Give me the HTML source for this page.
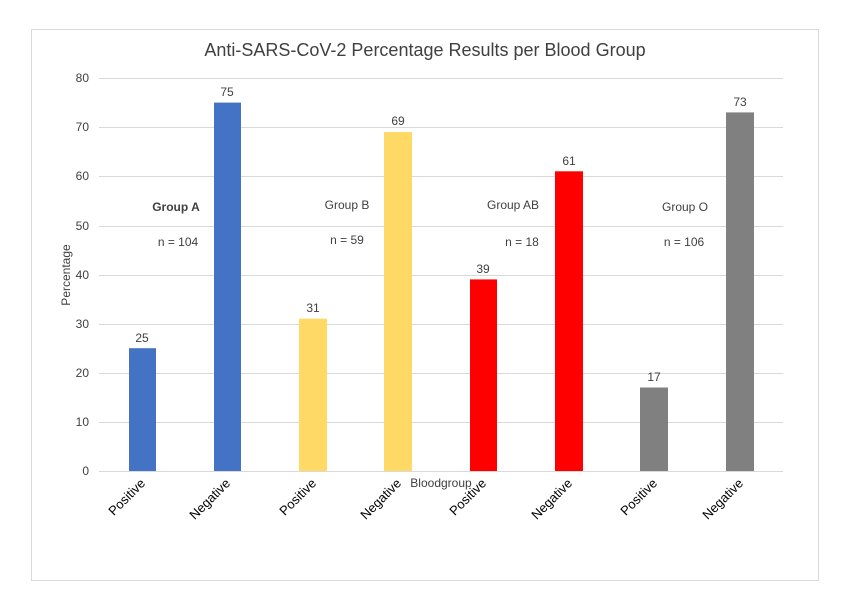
<!DOCTYPE html>
<html><head><meta charset="utf-8"><style>
html,body{margin:0;padding:0;background:#fff;}
svg{display:block;font-family:"Liberation Sans",sans-serif;}
</style></head><body>
<svg width="850" height="612" xmlns="http://www.w3.org/2000/svg">
<rect x="0" y="0" width="850" height="612" fill="#fff"/>
<rect x="31.5" y="29.5" width="787" height="551" fill="#fff" stroke="#d9d9d9"/>
<text x="425" y="56" text-anchor="middle" font-size="18" fill="#404040">Anti-SARS-CoV-2 Percentage Results per Blood Group</text>
<g stroke="#d9d9d9" stroke-width="1">
<line x1="99" x2="783" y1="78.5" y2="78.5"/>
<line x1="99" x2="783" y1="127.5" y2="127.5"/>
<line x1="99" x2="783" y1="176.5" y2="176.5"/>
<line x1="99" x2="783" y1="226.5" y2="226.5"/>
<line x1="99" x2="783" y1="275.5" y2="275.5"/>
<line x1="99" x2="783" y1="324.5" y2="324.5"/>
<line x1="99" x2="783" y1="373.5" y2="373.5"/>
<line x1="99" x2="783" y1="422.5" y2="422.5"/>
</g>
<g font-size="12" fill="#404040" text-anchor="end">
<text x="89" y="82">80</text><text x="89" y="131">70</text><text x="89" y="180">60</text>
<text x="89" y="230">50</text><text x="89" y="279">40</text><text x="89" y="328">30</text>
<text x="89" y="377">20</text><text x="89" y="426">10</text><text x="89" y="475">0</text>
</g>
<text transform="translate(70,275) rotate(-90)" text-anchor="middle" font-size="12" fill="#404040">Percentage</text>
<rect x="129" y="348.2" width="27" height="122.8" fill="#4472c4"/>
<rect x="214" y="102.6" width="27" height="368.4" fill="#4472c4"/>
<rect x="299" y="318.7" width="28" height="152.3" fill="#ffd966"/>
<rect x="384" y="132" width="28" height="339" fill="#ffd966"/>
<rect x="470" y="279.4" width="27" height="191.6" fill="#ff0000"/>
<rect x="555" y="171.3" width="28" height="299.7" fill="#ff0000"/>
<rect x="640" y="387.5" width="28" height="83.5" fill="#808080"/>
<rect x="726" y="112.4" width="28" height="358.6" fill="#808080"/>
<line x1="99" x2="783" y1="471.5" y2="471.5" stroke="#d9d9d9"/>
<g font-size="12" fill="#404040" text-anchor="middle">
<text x="142" y="342">25</text><text x="227" y="96">75</text>
<text x="313" y="312">31</text><text x="398" y="125">69</text>
<text x="483" y="273">39</text><text x="569" y="165">61</text>
<text x="654" y="381">17</text><text x="740" y="106">73</text>
<text x="176" y="211" font-weight="bold">Group A</text><text x="178" y="246">n = 104</text>
<text x="347" y="209">Group B</text><text x="347" y="244">n = 59</text>
<text x="513" y="209">Group AB</text><text x="522" y="246">n = 18</text>
<text x="685" y="211">Group O</text><text x="684" y="246">n = 106</text>
<text x="441" y="487">Bloodgroup</text>
</g>
<g font-size="13" fill="#000" text-anchor="end">
<text transform="translate(146,484) rotate(-45)">Positive</text>
<text transform="translate(231,484) rotate(-45)">Negative</text>
<text transform="translate(317,484) rotate(-45)">Positive</text>
<text transform="translate(402,484) rotate(-45)">Negative</text>
<text transform="translate(487,484) rotate(-45)">Positive</text>
<text transform="translate(573,484) rotate(-45)">Negative</text>
<text transform="translate(658,484) rotate(-45)">Positive</text>
<text transform="translate(744,484) rotate(-45)">Negative</text>
</g>
</svg>
</body></html>
